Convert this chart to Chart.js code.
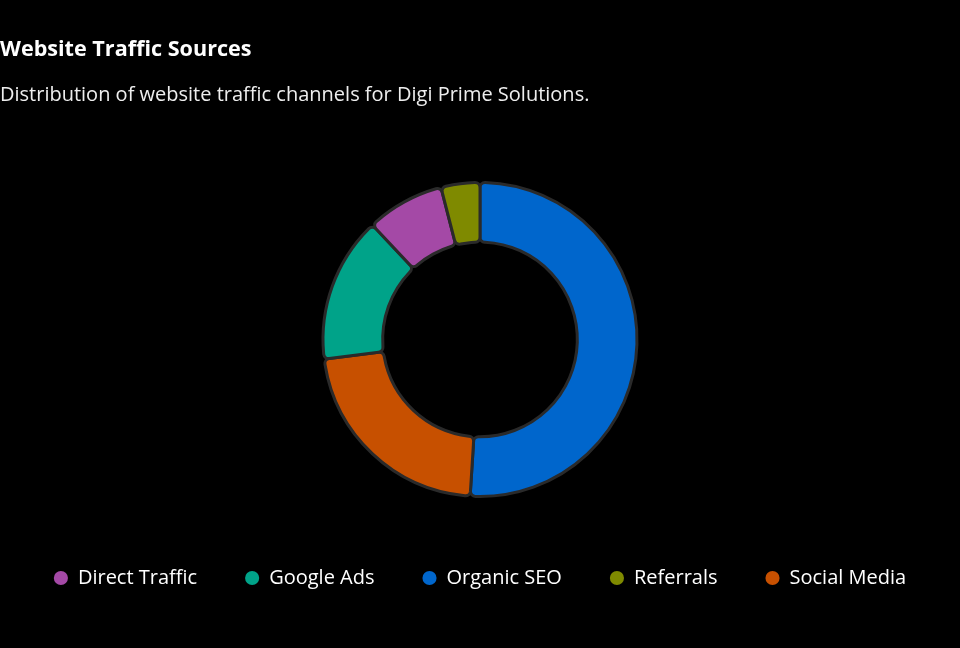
<!DOCTYPE html>
<html>
<head>
<meta charset="utf-8">
<script src="https://cdn.jsdelivr.net/npm/chart.js@4.4.1/dist/chart.umd.min.js"></script>
<style>
  html, body { margin: 0; padding: 0; background: #000; }
  #wrap { width: 960px; height: 648px; position: relative; }
</style>
</head>
<body>
<div id="wrap"><canvas id="c" width="960" height="648"></canvas></div>
<script>
const titleText = "Website Traffic Sources";
const subtitleText = "Distribution of website traffic channels for Digi Prime Solutions.";
const categories = ["Organic SEO", "Social Media", "Google Ads", "Direct Traffic", "Referrals"];
const shares = [51, 22, 15, 8, 4];
const sliceColors = ["#0066CC", "#C75000", "#00A389", "#A449A6", "#7F8A00"];

const FONT = "'Open Sans', 'Noto Sans', sans-serif";

new Chart(document.getElementById('c'), {
  type: 'doughnut',
  data: {
    labels: categories,
    datasets: [{
      data: shares,
      backgroundColor: sliceColors,
      borderColor: '#2a2a2a',
      borderWidth: 3,
      borderRadius: 5,
      hoverOffset: 0,
      radius: 157,
      cutout: '62%'
    }]
  },
  options: {
    responsive: false,
    animation: false,
    layout: { padding: { left: 0, right: 0, top: 0, bottom: 50 } },
    plugins: {
      title: {
        display: true,
        text: titleText,
        align: 'start',
        color: '#ffffff',
        font: { family: FONT, size: 21.6, weight: 'bold' },
        padding: { top: 37, bottom: 20 }
      },
      subtitle: {
        display: true,
        text: subtitleText,
        align: 'start',
        color: '#eeeeee',
        font: { family: FONT, size: 20 },
        padding: { top: 0, bottom: 52 }
      },
      legend: {
        position: 'bottom',
        labels: {
          color: '#ffffff',
          font: { family: FONT, size: 20 },
          usePointStyle: true,
          pointStyle: 'circle',
          boxWidth: 14,
          boxHeight: 10,
          padding: 48,
          sort: (a, b) => a.text.localeCompare(b.text),
          generateLabels: (chart) => {
            const items = Chart.overrides.doughnut.plugins.legend.labels.generateLabels(chart);
            return items.map(it => Object.assign(it, { lineWidth: 0, strokeStyle: it.fillStyle }));
          }
        }
      },
      tooltip: { enabled: false }
    }
  }
});
</script>
</body>
</html>
